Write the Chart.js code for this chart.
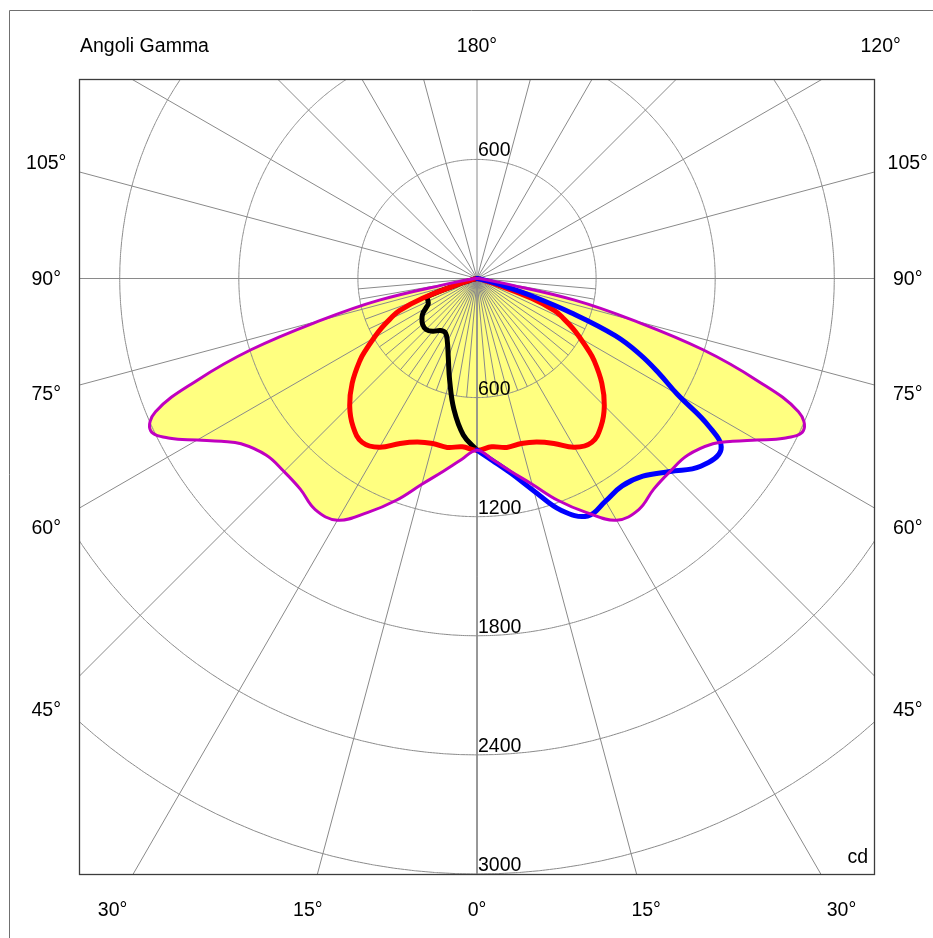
<!DOCTYPE html>
<html>
<head>
<meta charset="utf-8">
<title>Angoli Gamma</title>
<script src="https://cdn.jsdelivr.net/npm/chart.js@4.4.1/dist/chart.umd.min.js"></script>
<style>
  html, body { margin: 0; padding: 0; background: #fff; }
  #wrap { width: 933px; height: 938px; }
</style>
</head>
<body>
<div id="wrap"><canvas id="polar" width="933" height="938"></canvas></div>
<script>
const GAMMA     = [0, 5, 10, 15, 20, 25, 30, 35, 40, 45, 50, 55, 57.5, 60, 62.5, 65, 67.5, 70, 72.5, 75, 77.5, 80, 85, 90];
const magentaCd = [865, 917, 987, 1073, 1189, 1300, 1406, 1421, 1385, 1375, 1385, 1451, 1527, 1627, 1743, 1814, 1753, 1501, 1194, 816, 504, 126, 25, 0];
const redCd     = [865, 851, 864, 861, 877, 917, 982, 1008, 972, 907, 821, 720, 660, 600, 544, 484, 423, 292, 111, 40, 15, 5, 0, 0];
const blueCd    = [865, 922, 998, 1108, 1244, 1320, 1295, 1275, 1300, 1375, 1471, 1501, 1385, 1164, 1033, 907, 756, 504, 277, 126, 50, 20, 0, 0];
const blackCd   = [865, 791, 670, 532, 423, 353, 317, 320, 347, 363, 358, 338, 322, 297, 277, 272, 270, 267, 111, 40, 15, 5, 0, 0];

// griglia
const RINGS = [600, 1200, 1800, 2400, 3000];
const RAY_STEP = 15;      // raggi su tutto il diagramma
const FINE_STEP = 5;      // raggi fitti nella metà inferiore
const FINE_RADIUS = 600;

// etichette angoli (negativo = metà sinistra)
const ANGLE_LABELS = [-30, -45, -60, -75, -90, -105, 180, 120, 105, 90, 75, 60, 45, 30, 15, 0, -15];

(() => {
  const canvas = document.getElementById('polar');
  if (!canvas || !window.Chart) return;

  const FONT = '19.5px "Liberation Sans", Arial, sans-serif';
  const rad = (g) => g * Math.PI / 180;
  const toXY = (g, cd) => ({ x: cd * Math.sin(rad(g)), y: -cd * Math.cos(rad(g)) });

  const half = (vals, side) => GAMMA.map((g, i) => toXY(side * g, vals[i]));
  // curva chiusa: sinistra 90° -> 0°, poi destra 0° -> 90°
  const both = (vals) => half(vals, -1).reverse().concat(half(vals, 1).slice(1));

  const gridLine = {
    borderColor: '#8a8a8a', borderWidth: 1, pointRadius: 0,
    showLine: true, tension: 0, clip: 0, fill: false, order: 50
  };
  const curve = (data, color, width, order) => ({
    data, borderColor: color, borderWidth: width, pointRadius: 0,
    showLine: true, tension: 0.4, fill: false, order,
    borderJoinStyle: 'round', borderCapStyle: 'round'
  });

  const datasets = [];

  // area gialla
  datasets.push({
    data: both(magentaCd), showLine: true, fill: 'shape',
    backgroundColor: '#ffff80', borderWidth: 0, pointRadius: 0,
    tension: 0.4, order: 100
  });

  // cerchi (tension minima: evita il "fast path" che disegna trattini verticali)
  RINGS.forEach(r => {
    const pts = [];
    for (let a = 0; a <= 360; a += 2) pts.push(toXY(a, r));
    datasets.push({ ...gridLine, tension: 0.001, data: pts });
  });

  // raggi
  for (let a = 0; a < 360; a += RAY_STEP) {
    datasets.push({ ...gridLine, data: [{ x: 0, y: 0 }, toXY(a, 10000)] });
  }
  for (let a = -90 + FINE_STEP; a < 90; a += FINE_STEP) {
    if (a % RAY_STEP === 0) continue;
    datasets.push({ ...gridLine, data: [{ x: 0, y: 0 }, toXY(a, FINE_RADIUS)] });
  }

  // curve
  datasets.push(curve(half(blackCd, -1), '#000000', 5, 4));
  datasets.push(curve(both(redCd), '#ff0000', 5, 3));
  datasets.push(curve(half(blueCd, 1), '#0000ff', 5, 2));
  datasets.push(curve(both(magentaCd), '#c000c0', 3, 1));

  // testi e cornici
  const LABEL_BOX = { left: -2170, right: 2170, top: 1174, bottom: -3180 };
  const labelPoint = (g) => {
    const dx = Math.sin(rad(g)), dy = -Math.cos(rad(g));
    let t = Infinity;
    if (dx > 1e-9) t = Math.min(t, LABEL_BOX.right / dx);
    if (dx < -1e-9) t = Math.min(t, LABEL_BOX.left / dx);
    if (dy > 1e-9) t = Math.min(t, LABEL_BOX.top / dy);
    if (dy < -1e-9) t = Math.min(t, LABEL_BOX.bottom / dy);
    return { x: dx * t, y: dy * t };
  };

  const framePlugin = {
    id: 'frame',
    afterDraw(chart) {
      const { ctx, chartArea: a, scales: { x, y } } = chart;
      ctx.save();

      // cornice esterna
      ctx.strokeStyle = '#707070';
      ctx.lineWidth = 1;
      ctx.beginPath();
      ctx.moveTo(9.5, chart.height);
      ctx.lineTo(9.5, 10.5);
      ctx.lineTo(chart.width, 10.5);
      ctx.stroke();

      // bordo del diagramma
      ctx.strokeStyle = '#3c3c3c';
      ctx.lineWidth = 1.3;
      ctx.strokeRect(a.left - 0.5, a.top - 0.5, a.right - a.left + 1, a.bottom - a.top + 1);

      ctx.fillStyle = '#000';
      ctx.font = FONT;

      // angoli
      ctx.textAlign = 'center';
      ctx.textBaseline = 'middle';
      ANGLE_LABELS.forEach(g => {
        const p = labelPoint(g);
        ctx.fillText(Math.abs(g) + '°', x.getPixelForValue(p.x), y.getPixelForValue(p.y) + 1);
      });

      ctx.textAlign = 'left';
      ctx.fillText('Angoli Gamma', a.left, y.getPixelForValue(LABEL_BOX.top) + 1);

      // valori cd sui cerchi
      ctx.textBaseline = 'alphabetic';
      const cx = x.getPixelForValue(0);
      RINGS.forEach(r => {
        ctx.fillText(String(r), cx + 1, y.getPixelForValue(-r) - 3);
        if (r <= y.max) ctx.fillText(String(r), cx + 1, y.getPixelForValue(r) - 3);
      });

      ctx.textAlign = 'right';
      ctx.fillText('cd', a.right - 6, a.bottom - 11);

      ctx.restore();
    }
  };

  new Chart(canvas.getContext('2d'), {
    type: 'scatter',
    data: { datasets },
    options: {
      responsive: false,
      animation: false,
      devicePixelRatio: 1,
      events: [],
      layout: { padding: { left: 80, top: 80, right: 59, bottom: 64 } },
      plugins: { legend: { display: false }, tooltip: { enabled: false } },
      scales: {
        x: { type: 'linear', min: -2000, max: 2000, display: false },
        y: { type: 'linear', min: -3000, max: 1000, display: false }
      }
    },
    plugins: [framePlugin]
  });
})();
</script>
</body>
</html>
